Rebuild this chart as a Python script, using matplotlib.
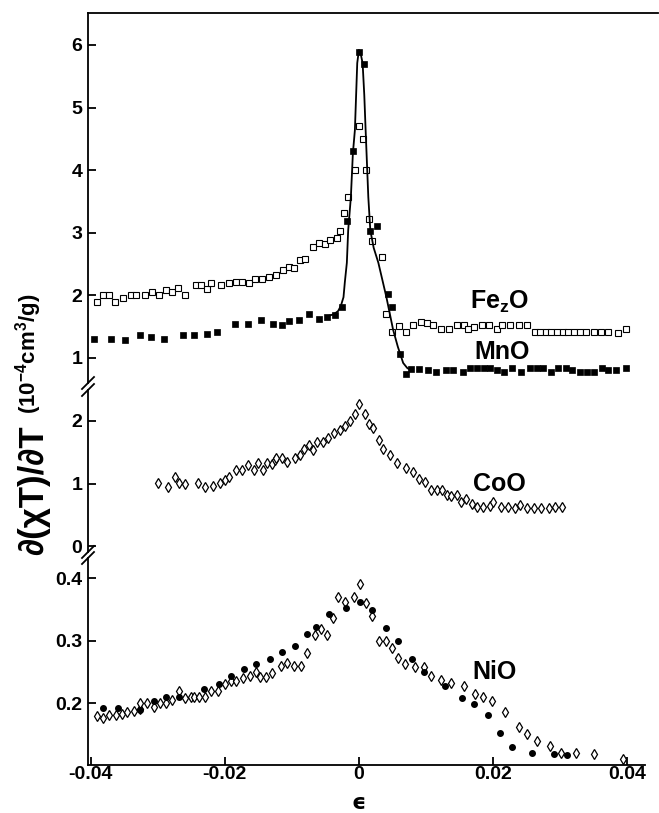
import matplotlib
matplotlib.use("Agg")
import matplotlib.pyplot as plt
from matplotlib.lines import Line2D

plt.rcParams['font.family'] = ['Liberation Sans', 'DejaVu Sans']
plt.rcParams['font.weight'] = 'bold'
plt.rcParams['mathtext.fontset'] = 'custom'
plt.rcParams['mathtext.rm'] = 'Liberation Sans:bold'
plt.rcParams['mathtext.bf'] = 'Liberation Sans:bold'
plt.rcParams['mathtext.it'] = 'Liberation Sans:bold'
plt.rcParams['mathtext.default'] = 'rm'

# ---- FezO (open squares) ----
fe_x = [-0.0390, -0.0382, -0.0373, -0.0363, -0.0352, -0.0340, -0.0332, -0.0319,
        -0.0308, -0.0298, -0.0288, -0.0278, -0.0270, -0.0260, -0.0243, -0.0236,
        -0.0227, -0.0221, -0.0206, -0.0194, -0.0184, -0.0174, -0.0164, -0.0155,
        -0.0145, -0.0134, -0.0124, -0.0113, -0.0104, -0.0097, -0.0088, -0.0080,
        -0.0069, -0.0060, -0.0051, -0.0043, -0.0033, -0.0028, -0.0022, -0.0016,
        -0.0006, 0.0000, 0.0006, 0.0010, 0.0015, 0.0020, 0.0034, 0.0040,
        0.0050, 0.0060, 0.0070, 0.0081, 0.0093, 0.0102, 0.0111, 0.0122,
        0.0134, 0.0146, 0.0156, 0.0162, 0.0172, 0.0183, 0.0194, 0.0206,
        0.0214, 0.0226, 0.0238, 0.0250, 0.0262, 0.0270, 0.0279, 0.0287,
        0.0296, 0.0304, 0.0312, 0.0321, 0.0329, 0.0338, 0.0350, 0.0361,
        0.0372, 0.0387, 0.0398]
fe_y = [1.90, 2.00, 2.01, 1.90, 1.96, 2.01, 2.01, 2.01,
        2.05, 2.01, 2.09, 2.05, 2.11, 2.01, 2.16, 2.16,
        2.10, 2.19, 2.17, 2.19, 2.21, 2.21, 2.19, 2.26,
        2.26, 2.30, 2.32, 2.41, 2.46, 2.44, 2.56, 2.58,
        2.77, 2.83, 2.82, 2.89, 2.92, 3.02, 3.32, 3.57,
        4.01, 4.71, 4.50, 4.01, 3.22, 2.87, 2.62, 1.70,
        1.42, 1.51, 1.41, 1.53, 1.57, 1.56, 1.52, 1.46,
        1.46, 1.53, 1.53, 1.46, 1.49, 1.53, 1.53, 1.46,
        1.53, 1.53, 1.53, 1.53, 1.41, 1.41, 1.41, 1.41,
        1.41, 1.41, 1.41, 1.41, 1.41, 1.41, 1.41, 1.41,
        1.41, 1.40, 1.46]

# ---- MnO (filled squares) ----
mn_x = [-0.0395, -0.0369, -0.0349, -0.0327, -0.0310, -0.0291, -0.0263, -0.0246,
        -0.0227, -0.0211, -0.0185, -0.0165, -0.0146, -0.0128, -0.0115, -0.0104,
        -0.0090, -0.0075, -0.0059, -0.0047, -0.0035, -0.0025, -0.0018, -0.0009,
        0.0000, 0.0008, 0.0017, 0.0027, 0.0044, 0.0050, 0.0061, 0.0070,
        0.0078, 0.0090, 0.0103, 0.0115, 0.0130, 0.0140, 0.0155, 0.0166,
        0.0176, 0.0186, 0.0196, 0.0206, 0.0216, 0.0229, 0.0242, 0.0255,
        0.0265, 0.0275, 0.0287, 0.0297, 0.0309, 0.0318, 0.0330, 0.0340,
        0.0350, 0.0362, 0.0372, 0.0384, 0.0398]
mn_y = [1.30, 1.30, 1.29, 1.37, 1.33, 1.30, 1.36, 1.36,
        1.39, 1.41, 1.55, 1.55, 1.60, 1.55, 1.53, 1.59,
        1.60, 1.70, 1.63, 1.66, 1.69, 1.82, 3.19, 4.31,
        5.88, 5.70, 3.02, 3.10, 2.02, 1.81, 1.07, 0.74,
        0.82, 0.82, 0.81, 0.77, 0.81, 0.81, 0.77, 0.84,
        0.84, 0.84, 0.84, 0.81, 0.77, 0.84, 0.77, 0.84,
        0.84, 0.84, 0.77, 0.84, 0.84, 0.81, 0.77, 0.77,
        0.77, 0.84, 0.81, 0.81, 0.84]

# ---- MnO fit curve ----
fit_x = [-0.0046, -0.0037, -0.0031, -0.0027, -0.0023, -0.0021, -0.0018, -0.0016,
         -0.0012, -0.0009, -0.0006, -0.00025, 0.0000, 0.0003, 0.00055, 0.0008,
         0.0010, 0.0014, 0.0017, 0.0022, 0.0029, 0.0041, 0.0051, 0.0058,
         0.0066, 0.0072, 0.0078]
fit_y = [1.67, 1.70, 1.75, 1.83, 1.97, 2.21, 2.52, 3.04,
         3.57, 4.27, 4.64, 5.71, 5.92, 5.84, 5.71, 5.20,
         4.64, 3.57, 3.04, 2.76, 2.52, 1.97, 1.45, 1.18,
         0.92, 0.84, 0.80]

# ---- CoO (open diamonds) ----
co_x = [-0.0300, -0.0285, -0.0274, -0.0269, -0.0259, -0.0240, -0.0229, -0.0218,
        -0.0207, -0.0200, -0.0193, -0.0183, -0.0174, -0.0165, -0.0157, -0.0151,
        -0.0143, -0.0137, -0.0129, -0.0125, -0.0123, -0.0114, -0.0107, -0.0096,
        -0.0088, -0.0082, -0.0074, -0.0068, -0.0063, -0.0054, -0.0046, -0.0037,
        -0.0028, -0.0021, -0.0013, -0.0006, 0.0000, 0.0009, 0.0015, 0.0021,
        0.0030, 0.0036, 0.0046, 0.0057, 0.0070, 0.0080, 0.0089, 0.0099,
        0.0107, 0.0116, 0.0124, 0.0131, 0.0138, 0.0146, 0.0152, 0.0159,
        0.0168, 0.0176, 0.0185, 0.0195, 0.0200, 0.0212, 0.0223, 0.0233,
        0.0240, 0.0250, 0.0261, 0.0272, 0.0283, 0.0293, 0.0303]
co_y = [1.01, 0.95, 1.10, 1.01, 1.00, 1.01, 0.95, 0.96,
        1.01, 1.05, 1.10, 1.21, 1.21, 1.30, 1.21, 1.33,
        1.22, 1.33, 1.31, 1.38, 1.41, 1.41, 1.34, 1.41,
        1.45, 1.55, 1.61, 1.54, 1.66, 1.67, 1.73, 1.80,
        1.86, 1.91, 1.99, 2.10, 2.26, 2.10, 1.95, 1.88,
        1.70, 1.55, 1.45, 1.33, 1.25, 1.18, 1.07, 1.02,
        0.90, 0.90, 0.90, 0.82, 0.80, 0.82, 0.70, 0.76,
        0.67, 0.62, 0.63, 0.64, 0.70, 0.62, 0.63, 0.61,
        0.66, 0.61, 0.61, 0.61, 0.61, 0.63, 0.62]

# ---- NiO (open diamonds and filled circles) ----
ni_d_x = [-0.0391, -0.0382, -0.0373, -0.0362, -0.0354, -0.0346, -0.0335, -0.0326,
          -0.0326, -0.0316, -0.0306, -0.0297, -0.0287, -0.0279, -0.0269, -0.0259,
          -0.0251, -0.0246, -0.0238, -0.0229, -0.0221, -0.0210, -0.0200, -0.0191,
          -0.0183, -0.0173, -0.0163, -0.0153, -0.0147, -0.0138, -0.0129, -0.0116,
          -0.0107, -0.0097, -0.0087, -0.0077, -0.0066, -0.0057, -0.0048, -0.0039,
          -0.0031, -0.0021, -0.0008, 0.0001, 0.0010, 0.0020, 0.0030, 0.0040,
          0.0049, 0.0059, 0.0069, 0.0083, 0.0097, 0.0107, 0.0122, 0.0137,
          0.0157, 0.0173, 0.0185, 0.0199, 0.0218, 0.0239, 0.0250, 0.0265,
          0.0285, 0.0301, 0.0324, 0.0351, 0.0394]
ni_d_y = [0.179, 0.176, 0.181, 0.181, 0.182, 0.186, 0.188, 0.190,
          0.200, 0.200, 0.194, 0.200, 0.200, 0.205, 0.220, 0.208,
          0.209, 0.209, 0.209, 0.210, 0.220, 0.220, 0.230, 0.236,
          0.236, 0.240, 0.243, 0.250, 0.241, 0.241, 0.248, 0.259,
          0.264, 0.259, 0.259, 0.280, 0.309, 0.318, 0.309, 0.336,
          0.369, 0.362, 0.370, 0.390, 0.360, 0.340, 0.300, 0.300,
          0.288, 0.272, 0.262, 0.257, 0.257, 0.244, 0.237, 0.232,
          0.227, 0.214, 0.210, 0.204, 0.185, 0.162, 0.150, 0.140,
          0.132, 0.120, 0.120, 0.118, 0.110]
ni_c_x = [-0.0382, -0.0360, -0.0326, -0.0306, -0.0287, -0.0269, -0.0231, -0.0208,
          -0.0191, -0.0172, -0.0153, -0.0133, -0.0115, -0.0095, -0.0077, -0.0064,
          -0.0044, -0.0020, 0.0001, 0.0020, 0.0040, 0.0059, 0.0079, 0.0097,
          0.0128, 0.0153, 0.0172, 0.0192, 0.0211, 0.0229, 0.0258, 0.0291,
          0.0310]
ni_c_y = [0.192, 0.192, 0.189, 0.203, 0.210, 0.210, 0.222, 0.230,
          0.243, 0.255, 0.262, 0.270, 0.281, 0.291, 0.310, 0.321,
          0.342, 0.352, 0.361, 0.349, 0.320, 0.300, 0.270, 0.250,
          0.228, 0.208, 0.198, 0.181, 0.152, 0.129, 0.120, 0.118,
          0.117]

x_ticks = [-0.04, -0.02, 0, 0.02, 0.04]
x_ticklabels = ['-0.04', '-0.02', '0', '0.02', '0.04']

W, H = 659, 813
fig = plt.figure(figsize=(W / 100, H / 100), dpi=100)


def rect(x0, y0, x1, y1):
    # pixel box (top-left origin) -> figure fraction
    return [x0 / W, (H - y1) / H, (x1 - x0) / W, (y1 - y0) / H]


ax_top = fig.add_axes(rect(88, 13, 658, 383))
ax_mid = fig.add_axes(rect(88, 390, 658, 552))
ax_bot = fig.add_axes(rect(88, 558, 658, 765))

xlim = (-0.0404, 0.0446)
for ax in (ax_top, ax_mid, ax_bot):
    ax.set_xlim(*xlim)
    ax.set_facecolor('none')
    for s in ax.spines.values():
        s.set_linewidth(1.3)
    ax.spines['right'].set_visible(False)
    ax.tick_params(direction='in', length=6, width=1.3, pad=4)
    ax.tick_params(axis='y', labelsize=14)
    ax.tick_params(axis='x', labelsize=14, pad=1)
    ax.set_xticks(x_ticks)

ax_top.spines['bottom'].set_visible(False)
ax_mid.spines['bottom'].set_visible(False)
ax_mid.spines['top'].set_visible(False)
ax_bot.spines['top'].set_visible(False)
ax_bot.spines['bottom'].set_bounds(-0.0404, 0.0427)
ax_top.tick_params(axis='x', bottom=False, labelbottom=False)
ax_mid.tick_params(axis='x', bottom=False, labelbottom=False)
ax_bot.set_xticklabels(x_ticklabels, fontweight='bold')

sq = dict(linestyle='none', marker='s', markersize=4.5, color='black')
ax_top.plot(fe_x, fe_y, markerfacecolor='white', markeredgewidth=0.8, **sq)
ax_top.plot(mn_x, mn_y, markeredgewidth=0.5, **sq)
ax_top.plot(fit_x, fit_y, color='black', linewidth=1.3)
ax_top.set_ylim(0.60, 6.51)
ax_top.set_yticks([1, 2, 3, 4, 5, 6])
ax_top.text(0.0210, 1.89, 'Fe$_{z}$O', fontsize=18, fontweight='bold', ha='center', va='center')
ax_top.text(0.0213, 1.10, 'MnO', fontsize=18, fontweight='bold', ha='center', va='center')

dm = dict(linestyle='none', marker='d', markersize=5.2, color='black',
          markerfacecolor='white', markeredgewidth=0.9)
ax_mid.plot(co_x, co_y, **dm)
ax_mid.set_ylim(-0.089, 2.49)
ax_mid.set_yticks([0, 1, 2])
ax_mid.text(0.0209, 1.0, 'CoO', fontsize=18, fontweight='bold', ha='center', va='center')

ax_bot.plot(ni_d_x, ni_d_y, **dm)
ax_bot.plot(ni_c_x, ni_c_y, linestyle='none', marker='o', markersize=4, color='black')
ax_bot.set_ylim(0.1008, 0.432)
ax_bot.set_yticks([0.2, 0.3, 0.4])
ax_bot.set_yticklabels(['0.2', '0.3', '0.4'], fontweight='bold')
ax_bot.text(0.0202, 0.25, 'NiO', fontsize=18, fontweight='bold', ha='center', va='center')

for ax in (ax_top, ax_mid):
    ax.set_yticklabels([str(t) for t in ax.get_yticks()], fontweight='bold')


# axis-break slashes on the left spine
def slash(px, py):
    x0, y0 = (px - 6) / W, (H - (py + 6)) / H
    x1, y1 = (px + 6) / W, (H - (py - 6)) / H
    fig.add_artist(Line2D([x0, x1], [y0, y1], color='black', linewidth=1.3,
                          transform=fig.transFigure))


for py in (383, 390, 552, 558):
    slash(88, py)

# axis labels
fig.text(34 / W, (H - 555) / H, '\u2202(\u03c7T)/\u2202T', rotation=90,
         fontsize=25, fontweight='bold', ha='center', va='bottom')
fig.text(29 / W, (H - 414) / H, '(10$^{-4}$cm$^{3}$/g)', rotation=90,
         fontsize=16, fontweight='bold', ha='center', va='bottom')
fig.text(359 / W, 0.5 / H, '\u03f5', fontsize=16, fontweight='bold',
         ha='center', va='bottom', family=['DejaVu Sans'])

fig.savefig('out.png', dpi=100)
